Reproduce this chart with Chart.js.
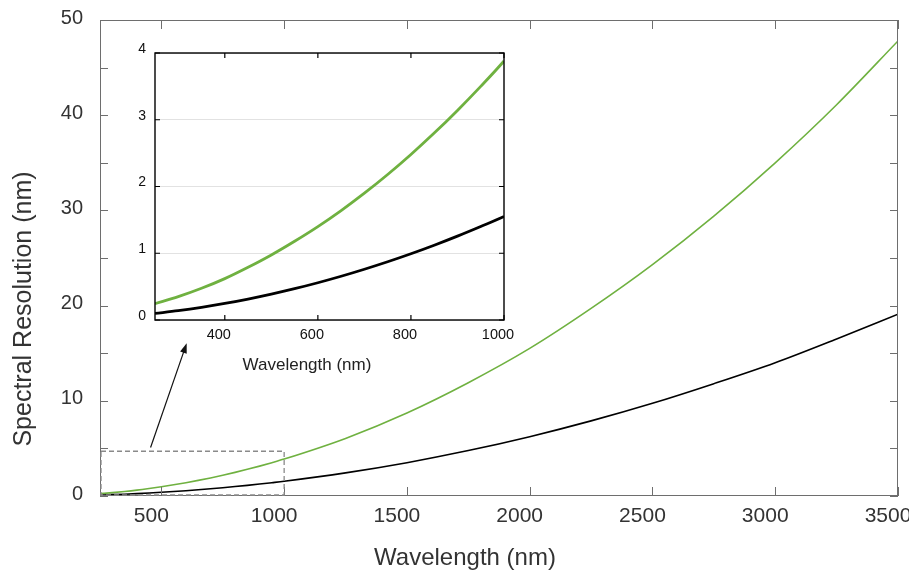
<!DOCTYPE html>
<html><head><meta charset="utf-8">
<script src="https://cdn.jsdelivr.net/npm/chart.js@4.4.1/dist/chart.umd.min.js"></script>
<style>
html,body{margin:0;padding:0;background:#fff;}
#wrap{position:relative;width:909px;height:571px;overflow:hidden;}
canvas{position:absolute;left:0;top:0;}
</style></head><body>
<div id="wrap"><canvas id="main" width="909" height="571"></canvas><canvas id="inset" width="909" height="571"></canvas></div>
<script>
// ---- data ----
const wavelength = [250,300,350,400,450,500,550,600,650,700,750,800,850,900,950,1000,1250,1500,1750,2000,2250,2500,2750,3000,3250,3500];
const resolutionGreen = [0.245,0.35,0.475,0.62,0.79,0.975,1.18,1.40,1.64,1.90,2.18,2.48,2.80,3.14,3.50,3.88,6.05,8.72,11.9,15.5,19.7,24.3,29.4,35.0,41.1,47.8];
const resolutionBlack = [0.098,0.14,0.19,0.248,0.314,0.388,0.469,0.558,0.655,0.76,0.872,0.992,1.12,1.256,1.40,1.55,2.43,3.50,4.77,6.23,7.89,9.74,11.8,14.0,16.5,19.1];

const mainXTicks = [500,1000,1500,2000,2500,3000,3500];
const mainYTicks = [0,10,20,30,40,50];
const mainYMarks = [0,5,10,15,20,25,30,35,40,45,50];
const insetXTicks = [400,600,800,1000];
const insetYTicks = [0,1,2,3,4];

const xTitle = 'Wavelength (nm)';
const yTitle = 'Spectral Resolution (nm)';
const zoomRegion = {xMin:250, xMax:1000, yMin:0, yMax:4.7};
const arrowFrom = {x:456, y:5.1};
const arrowTo = {x:603, y:16.05};

const FONT = "'Liberation Sans', Arial, Helvetica, sans-serif";
const GREEN = '#6fb140';

function pts(ys){ return wavelength.map((w,i)=>({x:w, y:ys[i]})); }
const plain = v => String(v);

// ---- main chart ----
const mainDecor = {
  id:'mainDecor',
  afterDraw(chart){
    const {ctx, chartArea:a, scales:{x,y}} = chart;
    ctx.save();
    ctx.strokeStyle = '#6e6e6e'; ctx.lineWidth = 1;
    ctx.strokeRect(a.left+0.5, a.top+0.5, a.right-a.left-1, a.bottom-a.top-1);
    ctx.beginPath();
    mainXTicks.forEach(v=>{
      const p = Math.round(x.getPixelForValue(v))+0.5;
      ctx.moveTo(p, a.bottom); ctx.lineTo(p, a.bottom-9);
      ctx.moveTo(p, a.top); ctx.lineTo(p, a.top+9);
    });
    mainYMarks.forEach(v=>{
      const p = Math.round(y.getPixelForValue(v))+0.5;
      ctx.moveTo(a.left, p); ctx.lineTo(a.left+8, p);
      ctx.moveTo(a.right, p); ctx.lineTo(a.right-8, p);
    });
    ctx.stroke();
    // dashed zoom region
    ctx.setLineDash([5,3]);
    ctx.strokeStyle = '#8a8a8a'; ctx.lineWidth = 1.3;
    const x0 = x.getPixelForValue(zoomRegion.xMin), x1 = x.getPixelForValue(zoomRegion.xMax);
    const y0 = y.getPixelForValue(zoomRegion.yMin), y1 = y.getPixelForValue(zoomRegion.yMax);
    ctx.strokeRect(x0+1, y1, x1-x0-1, y0-y1-1);
    ctx.setLineDash([]);
    // arrow
    const ax0 = x.getPixelForValue(arrowFrom.x), ay0 = y.getPixelForValue(arrowFrom.y);
    const ax1 = x.getPixelForValue(arrowTo.x), ay1 = y.getPixelForValue(arrowTo.y);
    const ang = Math.atan2(ay1-ay0, ax1-ax0);
    ctx.strokeStyle = '#111'; ctx.fillStyle = '#111'; ctx.lineWidth = 1.2;
    ctx.beginPath(); ctx.moveTo(ax0, ay0);
    ctx.lineTo(ax1 - 6*Math.cos(ang), ay1 - 6*Math.sin(ang)); ctx.stroke();
    ctx.beginPath();
    ctx.moveTo(ax1, ay1);
    ctx.lineTo(ax1 - 10*Math.cos(ang) + 3.5*Math.sin(ang), ay1 - 10*Math.sin(ang) - 3.5*Math.cos(ang));
    ctx.lineTo(ax1 - 10*Math.cos(ang) - 3.5*Math.sin(ang), ay1 - 10*Math.sin(ang) + 3.5*Math.cos(ang));
    ctx.closePath(); ctx.fill();
    // axis titles
    ctx.fillStyle = '#333';
    ctx.font = '24px ' + FONT;
    ctx.textAlign = 'center'; ctx.textBaseline = 'alphabetic';
    ctx.fillText(xTitle, 465, 565);
    ctx.save();
    ctx.translate(31, 309); ctx.rotate(-Math.PI/2);
    ctx.font = '25px ' + FONT;
    ctx.fillText(yTitle, 0, 0);
    ctx.restore();
    ctx.restore();
  }
};

new Chart(document.getElementById('main'), {
  type:'line',
  data:{ datasets:[
    {data:pts(resolutionBlack), borderColor:'#000', borderWidth:1.6, pointRadius:0, cubicInterpolationMode:'monotone', fill:false},
    {data:pts(resolutionGreen), borderColor:GREEN, borderWidth:1.6, pointRadius:0, cubicInterpolationMode:'monotone', fill:false}
  ]},
  options:{
    responsive:false, animation:false, events:[],
    layout:{padding:{left:0, right:11, top:20, bottom:0}},
    plugins:{legend:{display:false}, tooltip:{enabled:false}},
    scales:{
      x:{type:'linear', min:250, max:3500,
        grid:{display:false, drawTicks:false}, border:{display:false},
        afterBuildTicks(s){ s.ticks = mainXTicks.map(v=>({value:v})); },
        afterFit(s){ s.height = 75; s.paddingLeft = 0; s.paddingRight = 0; },
        ticks:{font:{size:21, family:FONT}, color:'#333', padding:8, labelOffset:-10, maxRotation:0, autoSkip:false, callback:plain}
      },
      y:{type:'linear', min:0, max:50,
        grid:{display:false, drawTicks:false}, border:{display:false},
        afterBuildTicks(s){ s.ticks = mainYTicks.map(v=>({value:v})); },
        afterFit(s){ s.width = 100; s.paddingTop = 0; s.paddingBottom = 0; },
        ticks:{font:{size:20, family:FONT}, color:'#333', padding:17, labelOffset:-2, callback:plain}
      }
    }
  },
  plugins:[mainDecor]
});

// ---- inset chart ----
const insetDecor = {
  id:'insetDecor',
  beforeDraw(chart){
    const {ctx, chartArea:a} = chart;
    ctx.save(); ctx.fillStyle = '#fff';
    ctx.fillRect(a.left, a.top, a.right-a.left, a.bottom-a.top);
    ctx.restore();
  },
  afterDraw(chart){
    const {ctx, chartArea:a, scales:{x,y}} = chart;
    ctx.save();
    ctx.strokeStyle = '#000'; ctx.lineWidth = 1.4;
    ctx.strokeRect(a.left, a.top, a.right-a.left, a.bottom-a.top);
    ctx.lineWidth = 1.2;
    ctx.beginPath();
    insetXTicks.forEach(v=>{
      const p = x.getPixelForValue(v);
      ctx.moveTo(p, a.bottom); ctx.lineTo(p, a.bottom-5);
      ctx.moveTo(p, a.top); ctx.lineTo(p, a.top+5);
    });
    insetYTicks.forEach(v=>{
      const p = y.getPixelForValue(v);
      ctx.moveTo(a.left, p); ctx.lineTo(a.left+5, p);
      ctx.moveTo(a.right, p); ctx.lineTo(a.right-5, p);
    });
    ctx.stroke();
    ctx.fillStyle = '#222';
    ctx.font = '17px ' + FONT;
    ctx.textAlign = 'center'; ctx.textBaseline = 'alphabetic';
    ctx.fillText(xTitle, 307, 370);
    ctx.restore();
  }
};

new Chart(document.getElementById('inset'), {
  type:'line',
  data:{ datasets:[
    {data:pts(resolutionBlack), borderColor:'#000', borderWidth:2.8, pointRadius:0, cubicInterpolationMode:'monotone', fill:false},
    {data:pts(resolutionGreen), borderColor:GREEN, borderWidth:2.8, pointRadius:0, cubicInterpolationMode:'monotone', fill:false}
  ]},
  options:{
    responsive:false, animation:false, events:[],
    layout:{padding:{left:100, right:405, top:53, bottom:211}},
    plugins:{legend:{display:false}, tooltip:{enabled:false}},
    scales:{
      x:{type:'linear', min:250, max:1000,
        grid:{display:false, drawTicks:false}, border:{display:false},
        afterBuildTicks(s){ s.ticks = insetXTicks.map(v=>({value:v})); },
        afterFit(s){ s.height = 40; s.paddingLeft = 0; s.paddingRight = 0; },
        ticks:{font:{size:14.5, family:FONT}, color:'#111', padding:6, labelOffset:-6, maxRotation:0, autoSkip:false, callback:plain}
      },
      y:{type:'linear', min:0, max:4,
        grid:{color:'#e2e2e2', lineWidth:1, drawTicks:false}, border:{display:false},
        afterBuildTicks(s){ s.ticks = insetYTicks.map(v=>({value:v})); },
        afterFit(s){ s.width = 55; s.paddingTop = 0; s.paddingBottom = 0; },
        ticks:{font:{size:14, family:FONT}, color:'#111', padding:9, labelOffset:-4, callback:plain}
      }
    }
  },
  plugins:[insetDecor]
});
</script>
</body></html>
